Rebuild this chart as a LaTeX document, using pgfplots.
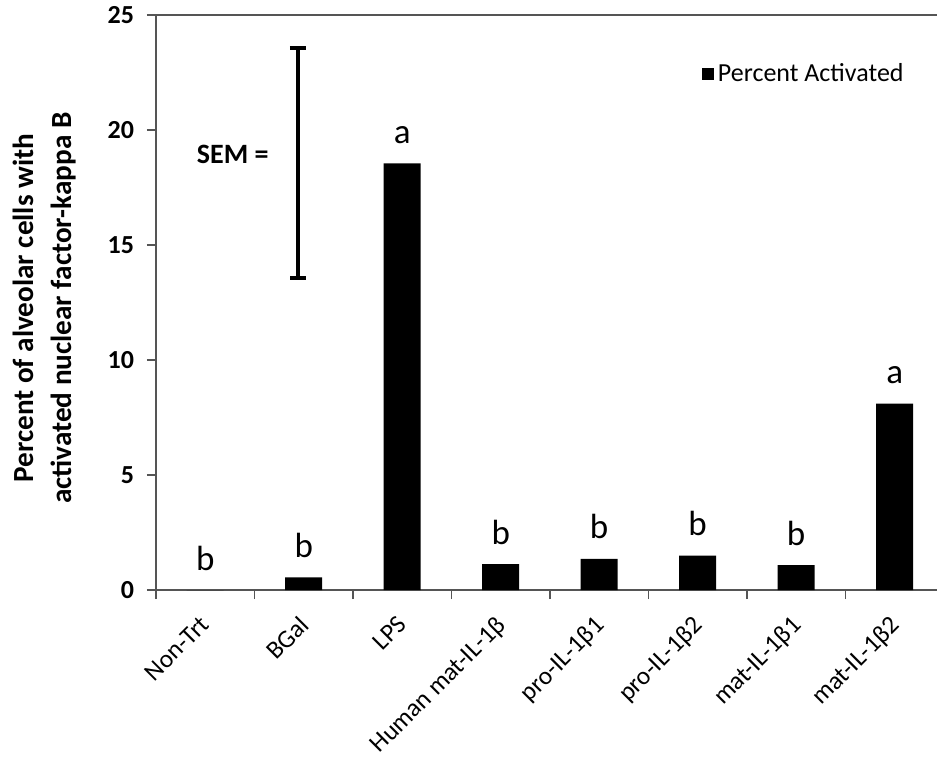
\documentclass[border=0pt]{standalone}
\usepackage{pgfplots}
\pgfplotsset{compat=1.18}
\usepackage{pgfplotstable}
\usepackage{fontspec}
\setmainfont{Carlito}
\definecolor{axgray}{RGB}{85,85,85}
\pgfplotstableread{
x y lab
0 0 b
1 0.55 b
2 18.55 a
3 1.12 b
4 1.35 b
5 1.5 b
6 1.08 b
7 8.1 a
}\datatab
\begin{document}
\begin{tikzpicture}
\begin{axis}[
  name=ax,
  scale only axis,
  width=390.5pt, height=287.5pt,
  xmin=-0.5, xmax=7.43,
  ymin=0, ymax=25,
  axis x line*=bottom, axis y line*=left,
  axis line style={axgray, line width=1.1pt},
  every tick/.style={axgray, line width=0.9pt},
  tick align=outside,
  major tick length=4.5pt,
  ytick={0,5,...,25},
  /pgf/number format/assume math mode=true,
  yticklabel style={font=\fontsize{13}{14}\selectfont\bfseries, anchor=east, xshift=-3pt},
  xtick={0,...,7},
  xticklabels={Non-Trt, BGal, LPS, Human mat-IL-1β, pro-IL-1β1, pro-IL-1β2, mat-IL-1β1, mat-IL-1β2},
  x tick style={draw=none},
  xticklabel shift=7.5pt,
  xticklabel style={font=\fontsize{12.7}{14}\selectfont, rotate=45, anchor=north east, inner sep=0pt,
    xshift=-2.1pt, yshift=2.1pt},
  extra x ticks={-0.5,0.5,...,6.5},
  extra x tick labels={},
  extra x tick style={x tick style={draw=axgray, line width=0.9pt}, major tick length=4.5pt},
  ylabel={Percent of alveolar cells with\\activated nuclear factor-kappa B},
  ylabel style={at={(rel axis cs:0,0.49)}, anchor=center, yshift=55.5pt, align=center,
    font=\fontsize{14.6}{19}\selectfont\bfseries},
  legend style={draw=none, fill=none, at={(rel axis cs:0.698,0.897)}, anchor=west,
    font=\fontsize{13}{15}\selectfont, inner sep=0pt},
  legend image code/.code={\fill[black] (0pt,-3.1pt) rectangle (6.2pt,3.1pt);},
  clip=false,
]
\addplot[ybar, bar width=18.5pt, fill=black, draw=none,
  nodes near coords, point meta=explicit symbolic,
  every node near coord/.style={anchor=base, yshift=10pt, font=\fontsize{17.5}{20}\selectfont, black}]
  table[x=x, y=y, meta=lab] {\datatab};
\addlegendentry{Percent Activated}
\addplot[forget plot, draw=none, mark=none,
  error bars/.cd, y dir=both, y explicit,
  error bar style={black, line width=2pt},
  error mark options={black, line width=2pt, mark size=4pt, rotate=90}]
  coordinates {(0.94,18.57) +- (0,5)};
\node[font=\fontsize{14}{16}\selectfont\bfseries, anchor=center] at (axis cs:0.28,18.95) {SEM =};
\draw[axgray, line width=1.1pt] (rel axis cs:0,1) -- (rel axis cs:1,1);
\end{axis}
\pgfresetboundingbox
\path (ax.south west) ++(-78pt,-85.5pt) coordinate (bbl);
\path (ax.north east) ++(0pt,7.5pt) coordinate (bur);
\path[use as bounding box] (bbl) rectangle (bur);
\end{tikzpicture}
\end{document}
